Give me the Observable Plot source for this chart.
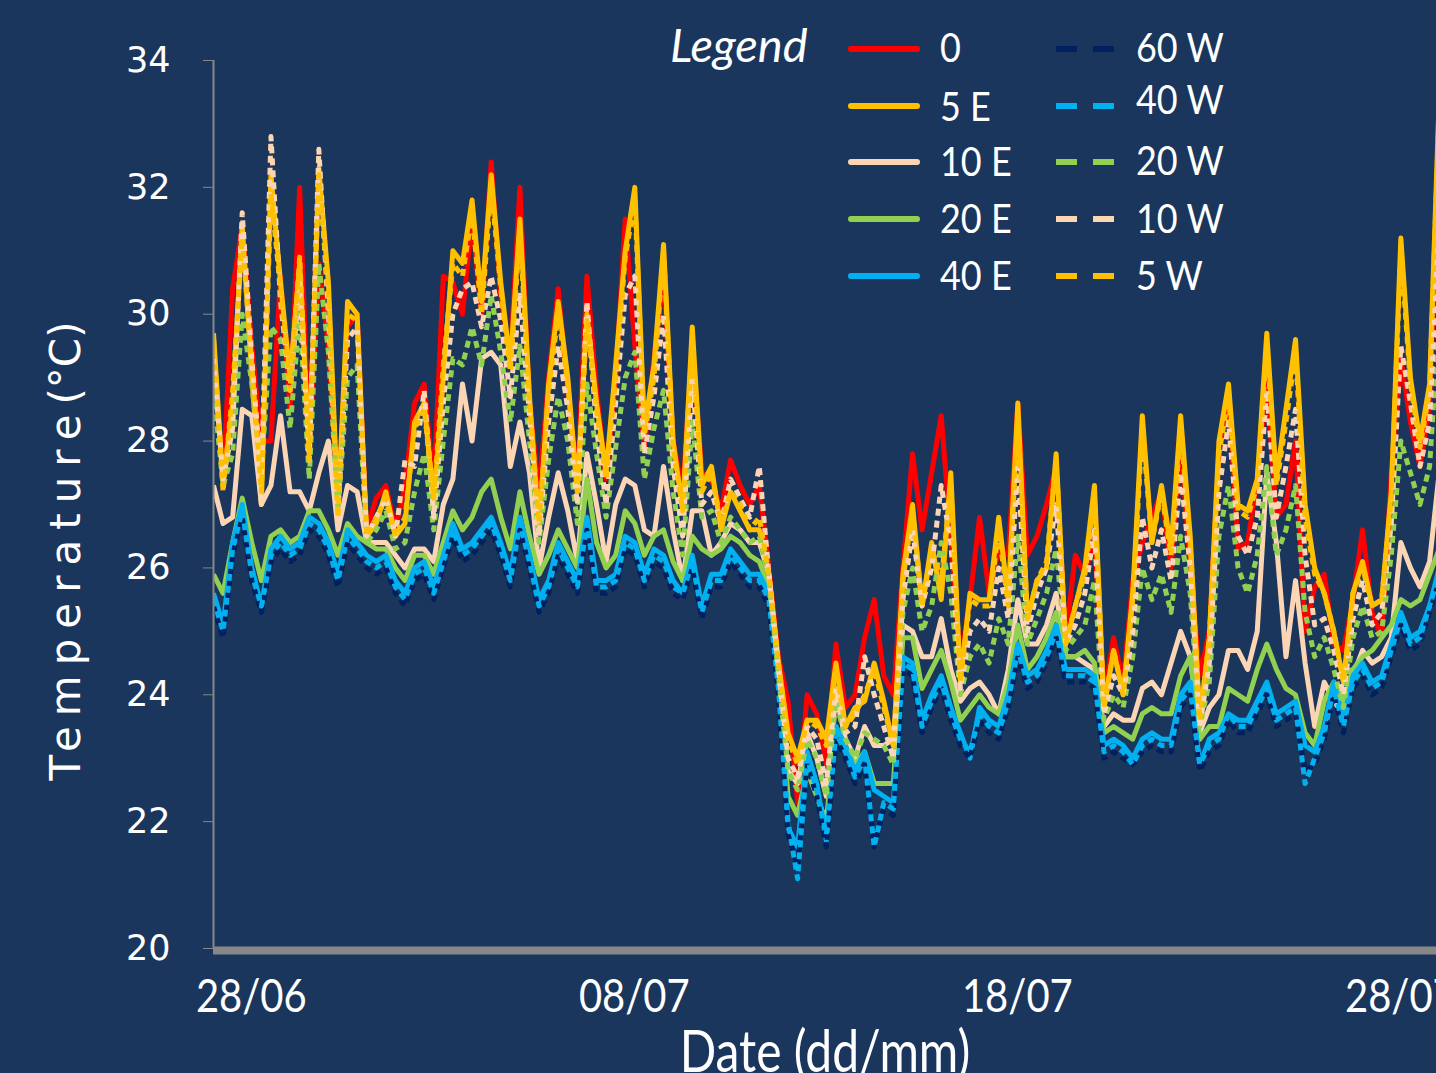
<!DOCTYPE html>
<html>
<head>
<meta charset="utf-8">
<script src="https://cdn.jsdelivr.net/npm/d3@7"></script>
<script src="https://cdn.jsdelivr.net/npm/@observablehq/plot@0.6"></script>
<style>
  html, body { margin: 0; padding: 0; background: #1a365d; overflow: hidden; }
  #chart { width: 1436px; height: 1073px; }
</style>
</head>
<body>
<div id="chart"></div>
<script>
// ---------- data (one value every 6 hours from 27/06 00:00) ----------
const startISO = "2012-06-27T00:00:00Z";
const stepHours = 6;
const endISO = "2012-07-28T22:20:00Z";
const xTickDates = ["2012-06-28", "2012-07-08", "2012-07-18", "2012-07-28"];
const yTicks = [20, 22, 24, 26, 28, 30, 32, 34];
const seriesNames = ["0", "5 E", "10 E", "20 E", "40 E", "60 W", "40 W", "20 W", "10 W", "5 W"];

const s0 = [29.5,27.4,30.4,31.4,29.5,28.0,28.0,30.6,28.5,32.0,
  27.8,30.8,29.5,27.0,29.8,30.0,26.6,27.1,27.3,26.6,
  27.3,28.6,28.9,27.3,30.6,30.5,30.0,31.5,30.0,32.4,
  30.3,29.3,32.0,28.6,27.2,29.0,30.4,28.8,27.4,30.6,
  28.8,27.4,29.0,31.5,29.5,27.9,29.3,30.6,28.0,27.2,
  29.5,27.5,27.4,26.9,27.7,27.3,27.0,27.3,26.0,24.6,
  23.9,22.3,24.0,23.7,22.9,24.8,23.8,24.0,24.9,25.5,
  24.3,24.0,26.0,27.8,26.6,27.5,28.4,26.5,24.5,25.5,
  26.8,25.6,26.3,26.2,28.6,26.2,26.5,27.0,27.6,24.9,
  26.2,25.9,26.5,24.0,24.9,24.2,25.8,26.4,26.8,27.2,
  26.0,28.0,26.0,24.3,25.0,27.8,28.8,26.3,26.4,27.4,
  29.0,26.8,27.0,28.0,25.0,25.7,25.9,24.8,24.7,25.5,
  26.6,25.3,24.9,27.5,29.3,28.3,27.6,28.6,32.6];

const s5E = [29.7,27.3,28.6,31.4,29.0,27.0,32.2,30.5,29.0,30.8,
  27.8,32.3,30.5,26.9,30.2,30.0,26.5,26.7,27.2,26.5,
  26.7,28.3,28.6,27.0,29.0,31.0,30.8,31.8,30.2,32.2,
  30.5,29.2,31.5,28.7,26.6,28.9,30.2,29.0,27.2,30.0,
  28.6,27.5,29.2,31.0,32.0,28.2,29.2,31.1,28.0,26.9,
  29.8,27.3,27.6,26.6,27.2,26.9,26.6,26.6,25.9,24.5,
  23.4,23.0,23.6,23.6,23.3,24.5,23.5,23.8,23.9,24.5,
  23.9,23.2,25.9,27.0,25.4,26.4,25.5,27.5,24.2,25.6,
  25.5,25.5,26.8,25.5,28.6,25.2,25.8,26.0,27.8,24.8,
  25.4,26.0,27.3,23.8,24.7,24.0,25.6,28.4,26.4,27.3,
  26.3,28.4,26.5,23.6,24.9,28.0,28.9,27.0,26.9,27.4,
  29.7,27.4,28.5,29.6,27.0,26.0,25.6,25.0,24.2,25.6,
  26.1,25.4,25.5,27.2,31.2,29.0,28.0,28.9,33.4];

const s10E = [27.3,26.7,26.8,28.5,28.4,27.0,27.3,28.4,27.2,27.2,
  26.9,27.5,28.0,26.6,27.3,27.2,26.4,26.4,26.4,26.2,
  26.0,26.3,26.3,26.1,27.0,27.4,28.9,28.0,29.3,29.4,
  29.2,27.6,28.3,27.5,26.0,26.8,27.5,26.9,26.1,27.8,
  27.0,26.1,27.0,27.4,27.3,26.6,26.5,27.6,26.6,25.8,
  26.9,26.9,26.2,26.4,26.7,26.6,26.4,26.4,25.9,24.4,
  22.8,22.6,23.4,23.0,22.4,24.0,23.3,23.0,23.5,23.2,
  23.2,23.3,25.1,25.0,24.6,24.6,25.2,24.4,23.9,24.1,
  24.2,24.0,23.7,24.4,25.5,24.8,24.8,25.1,25.6,24.6,
  24.6,24.5,24.4,23.5,23.7,23.6,23.6,24.1,24.2,24.0,
  24.5,25.0,24.6,23.4,23.8,24.0,24.7,24.7,24.4,25.0,
  27.5,26.4,24.6,25.8,24.5,23.5,24.2,23.9,23.7,24.3,
  24.7,24.5,24.6,24.9,26.4,26.0,25.7,26.1,27.5];

const s20E = [25.9,25.6,26.4,27.1,26.4,25.8,26.5,26.6,26.4,26.5,
  26.9,26.9,26.6,26.2,26.7,26.5,26.4,26.3,26.3,26.0,
  25.8,26.2,26.2,25.9,26.4,26.9,26.6,26.8,27.2,27.4,
  26.8,26.3,27.2,26.5,25.9,26.2,26.6,26.3,26.0,27.4,
  26.4,26.0,26.2,26.9,26.7,26.2,26.5,26.6,26.1,25.8,
  26.5,26.3,26.2,26.3,26.5,26.4,26.2,26.1,25.7,24.3,
  22.4,22.1,22.8,22.4,22.0,23.5,23.2,22.9,23.1,22.6,
  22.6,22.6,24.9,24.9,24.1,24.4,24.7,24.2,23.6,23.8,
  24.0,23.8,23.7,24.2,25.1,24.4,24.6,24.9,25.3,24.6,
  24.6,24.7,24.5,23.4,23.5,23.4,23.3,23.7,23.8,23.7,
  23.7,24.3,24.6,23.3,23.5,23.5,24.1,24.0,23.9,24.4,
  24.8,24.4,24.1,24.0,23.4,23.2,23.9,24.2,23.9,24.4,
  24.6,24.7,24.9,25.1,25.5,25.4,25.5,25.9,26.3];

const s40E = [25.6,25.1,26.4,27.0,26.0,25.4,26.3,26.5,26.3,26.4,
  26.8,26.7,26.4,25.9,26.6,26.4,26.2,26.1,26.2,25.8,
  25.6,26.0,26.1,25.7,26.2,26.7,26.3,26.4,26.6,26.8,
  26.4,25.9,26.8,26.2,25.5,25.8,26.4,26.1,25.8,26.8,
  25.8,25.8,25.9,26.5,26.4,25.9,26.3,26.2,25.8,25.6,
  26.2,25.4,25.9,25.9,26.3,26.1,25.9,25.9,25.6,24.2,
  21.9,21.6,23.1,22.6,21.7,23.5,23.2,22.8,23.1,22.5,
  22.4,22.3,24.6,24.5,23.6,24.0,24.3,23.8,23.4,23.0,
  23.8,23.6,23.5,24.0,24.8,24.3,24.4,24.7,25.1,24.4,
  24.4,24.4,24.3,23.2,23.3,23.2,23.0,23.3,23.4,23.3,
  23.3,24.0,24.2,22.9,23.3,23.4,23.7,23.6,23.6,23.9,
  24.2,23.7,23.8,23.9,23.2,23.1,23.5,24.2,23.6,24.3,
  24.5,24.2,24.3,24.8,25.3,24.9,25.0,25.4,26.0];

const s60W = [25.4,24.9,26.2,26.8,25.8,25.3,26.1,26.3,26.1,26.2,
  26.6,26.5,26.2,25.7,26.4,26.2,26.0,25.9,26.0,25.6,
  25.4,25.8,25.9,25.5,26.0,26.5,26.1,26.2,26.4,26.6,
  26.2,25.7,26.6,26.0,25.3,25.6,26.2,25.9,25.6,26.6,
  25.6,25.6,25.7,26.3,26.2,25.7,26.1,26.0,25.6,25.5,
  26.0,25.2,25.7,25.7,26.1,25.9,25.7,25.7,25.4,24.0,
  21.8,21.3,22.9,22.4,21.6,23.3,23.0,22.6,22.9,21.6,
  22.2,22.1,24.4,24.3,23.4,23.8,24.1,23.6,23.2,23.0,
  23.6,23.4,23.3,23.8,24.6,24.1,24.2,24.5,24.9,24.2,
  24.2,24.2,24.1,23.0,23.1,23.0,22.9,23.1,23.2,23.1,
  23.1,23.8,24.0,22.8,23.1,23.2,23.6,23.4,23.4,23.7,
  24.0,23.5,23.6,23.7,22.8,22.9,23.3,24.0,23.4,24.1,
  24.3,24.0,24.1,24.6,25.1,24.7,24.8,25.3,25.8];

const s40W = [25.5,25.0,26.3,26.9,25.9,25.4,26.2,26.4,26.2,26.3,
  26.7,26.6,26.3,25.8,26.5,26.3,26.1,26.0,26.1,25.7,
  25.5,25.9,26.0,25.6,26.1,26.6,26.2,26.3,26.5,26.7,
  26.3,25.8,26.7,26.1,25.4,25.7,26.3,26.0,25.7,26.7,
  25.7,25.7,25.8,26.4,26.3,25.8,26.2,26.1,25.7,25.6,
  26.1,25.3,25.8,25.8,26.2,26.0,25.8,25.8,25.5,24.1,
  22.0,21.1,23.0,22.5,21.8,23.4,23.1,22.7,23.0,21.6,
  22.3,22.2,24.5,24.4,23.5,23.9,24.2,23.7,23.3,23.1,
  23.7,23.5,23.4,23.9,24.7,24.2,24.3,24.6,25.0,24.3,
  24.3,24.3,24.2,23.1,23.2,23.1,22.9,23.2,23.3,23.2,
  23.2,23.9,24.1,22.9,23.2,23.3,23.7,23.5,23.5,23.8,
  24.1,23.6,23.7,23.8,22.6,23.0,23.4,24.1,23.5,24.2,
  24.4,24.1,24.2,24.7,25.2,24.8,24.9,25.4,25.9];

const s20W = [28.8,27.3,27.8,30.0,28.9,27.5,29.8,29.6,28.2,30.0,
  27.4,30.8,29.4,26.9,29.0,29.2,26.4,26.6,26.9,26.3,
  26.4,27.2,27.8,26.6,28.0,29.3,29.2,29.8,29.2,30.3,
  29.4,28.3,29.5,28.0,26.4,27.7,28.7,28.0,26.7,28.9,
  27.8,26.8,27.9,29.0,29.4,27.4,28.2,28.8,27.2,26.2,
  28.3,26.8,26.9,26.4,26.8,26.6,26.4,26.5,25.8,24.3,
  22.8,22.5,23.3,23.0,22.4,23.9,23.3,23.0,23.4,23.3,
  23.2,22.9,25.3,26.0,25.0,25.4,26.4,25.6,24.0,24.6,
  24.8,24.5,25.2,24.8,26.5,24.8,25.2,25.6,26.3,24.7,
  24.9,25.1,25.8,23.6,24.0,23.8,24.6,26.0,25.5,25.9,
  25.3,26.5,25.6,23.5,24.2,26.5,27.3,26.0,25.6,26.2,
  27.6,26.2,26.6,27.3,25.3,24.6,24.9,24.4,23.8,24.9,
  25.4,24.9,25.0,26.2,28.0,27.5,27.0,27.6,30.0];

const s10W = [29.3,27.4,28.2,31.6,29.3,27.4,32.8,30.2,28.8,30.5,
  27.7,32.6,30.0,26.9,29.6,29.8,26.5,26.8,27.1,26.5,
  27.7,27.6,28.8,26.8,28.6,30.0,30.4,30.5,29.8,30.6,
  29.9,28.7,30.3,28.4,26.5,28.3,29.5,28.5,27.0,30.2,
  28.2,27.0,28.6,30.3,30.6,27.8,28.7,30.0,27.6,26.5,
  29.0,27.0,27.2,26.7,27.4,27.1,26.8,27.6,25.9,24.4,
  23.0,22.7,23.5,23.3,22.6,24.1,23.4,23.5,24.6,24.0,
  23.5,23.0,25.5,26.6,25.4,26.0,27.3,26.4,24.1,25.0,
  25.2,25.0,26.0,25.2,27.6,25.0,25.6,26.0,27.0,24.8,
  25.1,25.6,26.6,23.7,24.3,24.0,25.0,26.8,26.0,26.6,
  25.8,27.5,26.0,23.5,24.5,27.2,28.3,26.5,26.2,26.8,
  28.8,26.8,27.6,28.5,26.2,25.1,25.2,24.7,24.0,25.2,
  25.8,25.1,25.3,26.7,29.5,28.6,27.6,28.3,31.5];

const s5W = [29.6,27.2,28.8,31.2,29.2,27.2,31.9,30.4,28.8,30.9,
  27.7,32.2,30.3,26.8,30.0,29.9,26.5,26.8,27.1,26.5,
  26.8,28.2,28.5,27.1,29.2,30.8,30.6,31.6,30.0,32.0,
  30.4,29.1,31.3,28.6,26.7,28.8,30.0,28.9,27.2,29.9,
  28.5,27.4,29.0,30.9,31.8,28.1,29.0,31.0,27.9,26.9,
  29.6,27.2,27.5,26.7,27.2,27.0,26.6,26.8,25.9,24.5,
  23.3,22.9,23.6,23.5,23.2,24.4,23.5,23.7,24.0,24.4,
  23.8,23.2,25.8,26.9,25.4,26.3,25.8,27.3,24.2,25.5,
  25.4,25.4,26.6,25.4,28.4,25.2,25.8,26.1,27.7,24.8,
  25.4,25.9,27.1,23.8,24.7,24.0,25.5,28.2,26.4,27.2,
  26.2,28.2,26.4,23.6,24.9,27.8,28.7,26.9,26.8,27.3,
  29.5,27.3,28.3,29.4,26.8,25.9,25.6,25.0,24.2,25.6,
  26.0,25.4,25.5,27.1,31.0,28.9,27.9,28.8,33.2];

// ---------- styles ----------
const seriesValues = {"0": s0, "5 E": s5E, "10 E": s10E, "20 E": s20E, "40 E": s40E,
  "60 W": s60W, "40 W": s40W, "20 W": s20W, "10 W": s10W, "5 W": s5W};
const seriesColor = {"0": "#ff0000", "5 E": "#ffc000", "10 E": "#fcd5b5", "20 E": "#92d050", "40 E": "#00b0f0",
  "60 W": "#002060", "40 W": "#00b0f0", "20 W": "#92d050", "10 W": "#fcd5b5", "5 W": "#ffc000"};
const isDashed = name => name.endsWith("W");

const start = new Date(startISO);
const rows = [];
for (const name of seriesNames) {
  seriesValues[name].forEach((v, i) => {
    rows.push({series: name, date: new Date(+start + i * stepHours * 3600e3), temp: v});
  });
}

const axisGray = "#878787";
const uiFont = "Lato, 'Open Sans', sans-serif";

const plot = Plot.plot({
  width: 1436,
  height: 1073,
  marginLeft: 213,
  marginRight: 0,
  marginTop: 60,
  marginBottom: 125,
  style: {background: "transparent", color: "white", fontFamily: "DejaVu Sans", overflow: "hidden"},
  x: {type: "utc", domain: [start, new Date(endISO)], axis: null},
  y: {domain: [20, 34], axis: null},
  marks: [
    ...seriesNames.map(name => Plot.line(rows.filter(r => r.series === name), {
      x: "date", y: "temp",
      stroke: seriesColor[name],
      strokeWidth: 5,
      strokeDasharray: isDashed(name) ? "7,5" : null,
      strokeLinejoin: "round",
      strokeLinecap: "butt",
      clip: true
    })),
    Plot.ruleX([start], {stroke: axisGray, strokeWidth: 2}),
    Plot.ruleY([20], {stroke: axisGray, strokeWidth: 8, dy: 2}),
    Plot.axisY({ticks: yTicks, tickSize: 10, tickPadding: 33, stroke: axisGray, fill: "white", label: null,
      fontSize: 35, fontFamily: "DejaVu Sans"})
  ]
});

document.getElementById("chart").appendChild(plot);

const svg = d3.select(plot);
const xScale = plot.scale("x");

// x tick labels, placed with Plot's own x scale
const xLabels = svg.append("g").attr("class", "x-tick-labels");
xTickDates.forEach(d => {
  const px = xScale.apply(new Date(d + "T00:00:00Z"));
  xLabels.append("text")
    .attr("transform", `translate(${px},1012) scale(1,1.18)`)
    .attr("text-anchor", "middle")
    .attr("fill", "white")
    .style("font-family", uiFont)
    .style("font-size", "40px")
    .text(d3.utcFormat("%d/%m")(new Date(d + "T00:00:00Z")));
});

// axis titles
const yTitle = svg.append("text")
  .attr("transform", "translate(80,551) rotate(-90)")
  .attr("text-anchor", "middle")
  .attr("fill", "white")
  .style("font-family", "DejaVu Sans")
  .style("font-size", "42px");
yTitle.append("tspan").style("letter-spacing", "10px").text("Temperature");
yTitle.append("tspan").text("(°C)");

svg.append("text")
  .attr("transform", "translate(825,1072) scale(1,1.22)")
  .attr("text-anchor", "middle")
  .attr("fill", "white")
  .style("font-family", uiFont)
  .style("font-size", "48px")
  .text("Date (dd/mm)");

// legend
const legendCol1 = ["0", "5 E", "10 E", "20 E", "40 E"];
const legendCol2 = ["60 W", "40 W", "20 W", "10 W", "5 W"];
const legendRowY = [49, 106, 162, 219, 276];
const legendText1Y = [48, 107, 162, 219, 276];
const legendText2Y = [48, 100, 161, 219, 276];

const lg = svg.append("g").attr("class", "legend");
lg.append("text")
  .attr("x", 670).attr("y", 62)
  .attr("text-anchor", "start")
  .attr("fill", "white")
  .style("font-family", uiFont)
  .style("font-style", "italic")
  .style("font-size", "47px")
  .text("Legend");

legendCol1.forEach((name, i) => {
  lg.append("line")
    .attr("x1", 851).attr("x2", 917).attr("y1", legendRowY[i]).attr("y2", legendRowY[i])
    .attr("stroke", seriesColor[name]).attr("stroke-width", 6).attr("stroke-linecap", "round");
  lg.append("text")
    .attr("transform", `translate(940,${legendText1Y[i] + 14}) scale(1,1.1)`)
    .attr("text-anchor", "start")
    .attr("fill", "white")
    .style("font-family", uiFont)
    .style("font-size", "36px")
    .text(name);
});
legendCol2.forEach((name, i) => {
  lg.append("line")
    .attr("x1", 1056).attr("x2", 1114).attr("y1", legendRowY[i]).attr("y2", legendRowY[i])
    .attr("stroke", seriesColor[name]).attr("stroke-width", 6)
    .attr("stroke-dasharray", "21,16");
  lg.append("text")
    .attr("transform", `translate(1136,${legendText2Y[i] + 14}) scale(1,1.1)`)
    .attr("text-anchor", "start")
    .attr("fill", "white")
    .style("font-family", uiFont)
    .style("font-size", "36px")
    .text(name);
});
</script>
</body>
</html>
